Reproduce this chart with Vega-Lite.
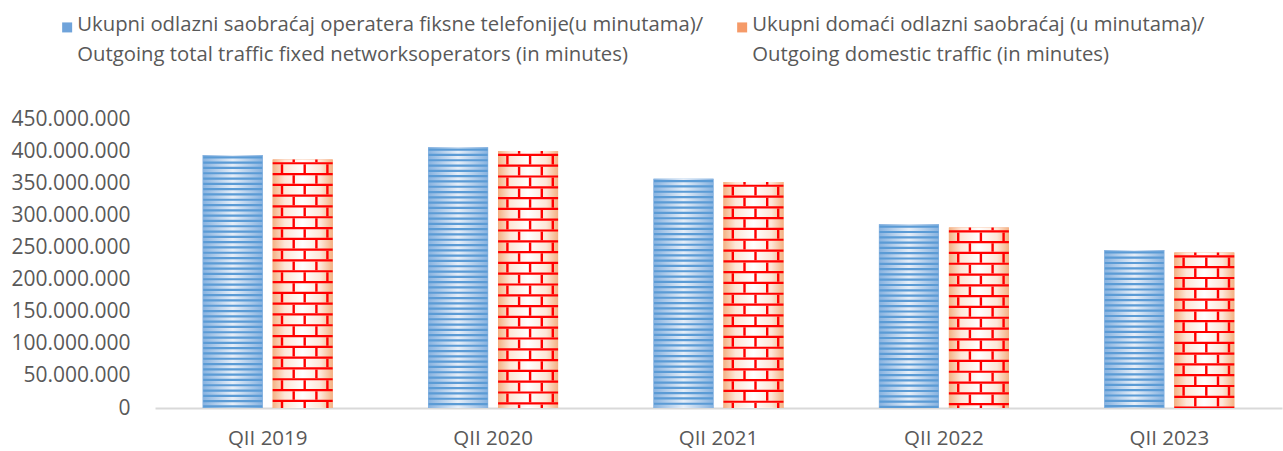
{
  "$schema": "https://vega.github.io/schema/vega-lite/v6.json",
  "width": 1127,
  "height": 289,
  "autosize": {"type": "none"},
  "padding": {"left": 155, "top": 119, "right": 1, "bottom": 43},
  "background": "white",
  "config": {
    "view": {"stroke": null},
    "locale": {"number": {"decimal": ",", "thousands": ".", "grouping": [3], "currency": ["", ""]}},
    "font": "Open Sans"
  },
  "data": {
    "values": [
      {"q": "QII 2019", "s": "total", "v": 394000000},
      {"q": "QII 2019", "s": "domestic", "v": 387000000},
      {"q": "QII 2020", "s": "total", "v": 406000000},
      {"q": "QII 2020", "s": "domestic", "v": 400000000},
      {"q": "QII 2021", "s": "total", "v": 357000000},
      {"q": "QII 2021", "s": "domestic", "v": 352000000},
      {"q": "QII 2022", "s": "total", "v": 286000000},
      {"q": "QII 2022", "s": "domestic", "v": 281000000},
      {"q": "QII 2023", "s": "total", "v": 246000000},
      {"q": "QII 2023", "s": "domestic", "v": 242000000}
    ]
  },
  "encoding": {
    "x": {
      "field": "q", "type": "nominal", "title": null,
      "scale": {"paddingInner": 0, "paddingOuter": 0},
      "axis": {"labelAngle": 0, "labelFontSize": 20.5, "labelColor": "#595959", "labelPadding": 20, "ticks": false, "domainColor": "#d9d9d9", "domainWidth": 2}
    },
    "y": {
      "field": "v", "type": "quantitative", "title": null,
      "scale": {"domain": [0, 450000000], "nice": false},
      "axis": {"values": [0, 50000000, 100000000, 150000000, 200000000, 250000000, 300000000, 350000000, 400000000, 450000000], "format": ",d", "grid": false, "domain": false, "ticks": false, "labelFontSize": 21, "labelColor": "#595959", "labelPadding": 25}
    }
  },
  "layer": [
    {
      "mark": {"type": "bar"},
      "encoding": {
        "xOffset": {"field": "s", "type": "nominal", "scale": {"domain": ["total", "domestic"], "paddingInner": 0.143, "paddingOuter": 0.682}},
        "color": {
          "field": "s", "type": "nominal",
          "scale": {"domain": ["total", "domestic"], "range": ["#6fa3da", "#f59a68"]},
          "legend": {
            "title": null, "orient": "none", "legendX": -98, "legendY": -102,
            "direction": "horizontal", "columns": 2, "columnPadding": 28,
            "symbolType": "square", "symbolSize": 100, "symbolStrokeWidth": 0,
            "labelFontSize": 20.3, "labelColor": "#595959", "labelLimit": 800, "labelOffset": 0,
            "labelExpr": "datum.label == 'total' ? ['Ukupni odlazni saobraćaj operatera fiksne telefonije(u minutama)/', 'Outgoing total traffic fixed networksoperators (in minutes)'] : ['Ukupni domaći odlazni saobraćaj (u minutama)/', 'Outgoing domestic traffic  (in minutes)']",
            "labelBaseline": "top",
            "encode": {"labels": {"update": {"lineHeight": {"value": 30}, "dy": {"value": -12}}}}
          }
        }
      }
    },
    {
      "transform": [{"filter": "datum.s == 'total'"}],
      "mark": {"type": "bar", "fill": {"gradient": "linear", "x1": 0, "y1": 0, "x2": 1, "y2": 0, "stops": [{"offset": 0, "color": "#86b2e0"}, {"offset": 0.5, "color": "#e6eef8"}, {"offset": 1, "color": "#86b2e0"}]}},
      "encoding": {"xOffset": {"field": "s", "type": "nominal"}}
    },
    {
      "transform": [{"filter": "datum.s == 'total'"}],
      "mark": {"type": "rule", "color": "#5b9bd5", "strokeWidth": 59, "strokeCap": "butt", "strokeDash": [2.2, 3.1], "strokeDashOffset": 4},
      "encoding": {"xOffset": {"field": "s", "type": "nominal"}, "y2": {"datum": 0}}
    },
    {
      "transform": [{"filter": "datum.s == 'domestic'"}],
      "mark": {"type": "bar", "fill": {"gradient": "linear", "x1": 0, "y1": 0, "x2": 1, "y2": 0, "stops": [{"offset": 0, "color": "#f4b183"}, {"offset": 0.2, "color": "#fde6d7"}, {"offset": 0.5, "color": "#ffffff"}, {"offset": 0.8, "color": "#fde6d7"}, {"offset": 1, "color": "#f4b183"}]}},
      "encoding": {"xOffset": {"field": "s", "type": "nominal"}}
    },
    {
      "transform": [{"filter": "datum.s == 'domestic'"}],
      "mark": {"type": "rule", "color": "#ff0000", "strokeWidth": 60, "strokeCap": "butt", "strokeDash": [2.2, 8.6], "strokeDashOffset": 8.1},
      "encoding": {"xOffset": {"field": "s", "type": "nominal"}, "y2": {"datum": 0}}
    },
    {
      "transform": [{"filter": "datum.s == 'domestic'"}],
      "mark": {"type": "rule", "color": "#ff0000", "strokeWidth": 2.4, "strokeCap": "butt", "strokeDash": [8.6, 13], "strokeDashOffset": 16.7, "xOffset": 14.3},
      "encoding": {"y2": {"datum": 0}}
    },
    {
      "transform": [{"filter": "datum.s == 'domestic'"}],
      "mark": {"type": "rule", "color": "#ff0000", "strokeWidth": 2.4, "strokeCap": "butt", "strokeDash": [8.6, 13], "strokeDashOffset": 16.7, "xOffset": 37},
      "encoding": {"y2": {"datum": 0}}
    },
    {
      "transform": [{"filter": "datum.s == 'domestic'"}],
      "mark": {"type": "rule", "color": "#ff0000", "strokeWidth": 2.4, "strokeCap": "butt", "strokeDash": [8.6, 13], "strokeDashOffset": 16.7, "xOffset": 59.7},
      "encoding": {"y2": {"datum": 0}}
    },
    {
      "transform": [{"filter": "datum.s == 'domestic'"}],
      "mark": {"type": "rule", "color": "#ff0000", "strokeWidth": 2.4, "strokeCap": "butt", "strokeDash": [8.6, 13], "strokeDashOffset": 5.9, "xOffset": 26},
      "encoding": {"y2": {"datum": 0}}
    },
    {
      "transform": [{"filter": "datum.s == 'domestic'"}],
      "mark": {"type": "rule", "color": "#ff0000", "strokeWidth": 2.4, "strokeCap": "butt", "strokeDash": [8.6, 13], "strokeDashOffset": 5.9, "xOffset": 48.7},
      "encoding": {"y2": {"datum": 0}}
    }
  ]
}
